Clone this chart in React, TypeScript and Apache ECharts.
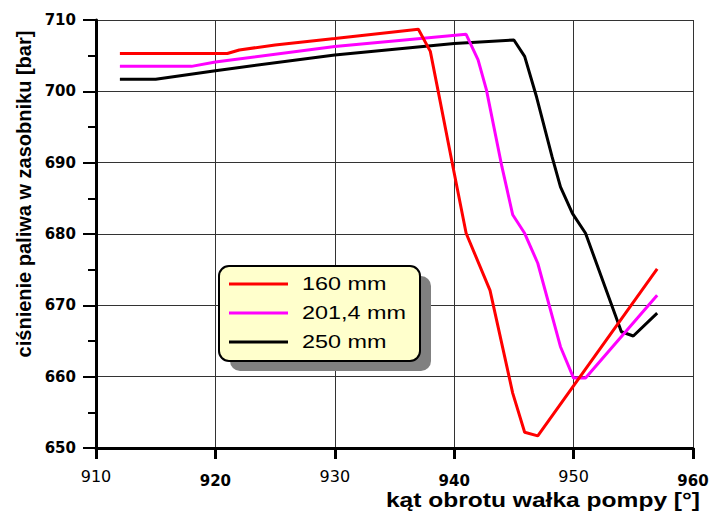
import React, { useEffect, useRef } from "react";
import * as echarts from "echarts";

const seriesNames = ["160 mm", "201,4 mm", "250 mm"];
const seriesColors = ["#ff0000", "#ff00ff", "#000000"];

const red160X = [912, 921, 922, 925, 930, 937, 938, 938.8, 939.9, 941, 943, 944.9, 945.9, 947, 957];
const red160Y = [705.3, 705.3, 705.8, 706.5, 707.4, 708.7, 705.6, 698.8, 689.4, 680.1, 672.1, 657.7, 652.2, 651.7, 675.1];

const mag201X = [912, 918, 920, 930, 941, 942, 942.7, 944, 944.9, 945.9, 947, 948.9, 950, 951, 957];
const mag201Y = [703.5, 703.5, 704.1, 706.3, 708.0, 704.4, 700.2, 689.4, 682.7, 680.1, 675.9, 664.2, 659.8, 659.8, 671.4];

const blk250X = [912, 915, 920, 930, 940, 945, 945.9, 946.9, 948.2, 948.9, 949.9, 951, 954, 955, 957];
const blk250Y = [701.7, 701.7, 702.9, 705.1, 706.7, 707.2, 704.9, 699.2, 690.8, 686.6, 682.9, 680.1, 666.3, 665.7, 668.9];

const xTicks = [910, 920, 930, 940, 950, 960];
const boldXTicks = [920, 940, 960];
const yTicks = [650, 660, 670, 680, 690, 700, 710];

const xTitle = "kąt obrotu wałka pompy [°]";
const yTitle = "ciśnienie paliwa w zasobniku [bar]";

const FONT = "Arial, 'Liberation Sans', sans-serif";
const WIDE = "'DejaVu Sans', sans-serif";

function pairs(xs: number[], ys: number[]) {
  return xs.map((x, i) => [x, ys[i]]);
}

export default function App() {
  const ref = useRef<HTMLDivElement>(null);
  useEffect(() => {
    if (!ref.current) return;
    const chart = echarts.init(ref.current, undefined, { renderer: "svg" });
    const allX = [red160X, mag201X, blk250X];
    const allY = [red160Y, mag201Y, blk250Y];

    const legendX = 219, legendY = 266, legendW = 201, legendH = 95;
    const legendItems: any[] = [];
    seriesNames.forEach((name, i) => {
      const cy = 284 + i * 29;
      legendItems.push({
        type: "line",
        shape: { x1: 229, y1: cy, x2: 288, y2: cy },
        style: { stroke: seriesColors[i], lineWidth: 3 },
        z: 102,
      });
      legendItems.push({
        type: "text",
        x: 302,
        y: cy,
        scaleX: 1.3,
        style: {
          text: name,
          font: `18px ${FONT}`,
          fill: "#000",
          verticalAlign: "middle",
          textAlign: "left",
        },
        z: 102,
      });
    });

    chart.setOption({
      animation: false,
      backgroundColor: "#ffffff",
      grid: { left: 96, top: 20, right: 20, bottom: 64, containLabel: false },
      xAxis: {
        type: "value",
        min: 910,
        max: 960,
        interval: 10,
        axisLine: { show: true, onZero: false, lineStyle: { color: "#000", width: 3 } },
        axisTick: { show: true, inside: false, length: 11, lineStyle: { color: "#000", width: 3 } },
        splitLine: { show: true, lineStyle: { color: "#333", width: 1 } },
        axisLabel: {
          margin: 20,
          formatter: (v: number) => (boldXTicks.includes(v) ? `{b|${v}}` : `{n|${v}}`),
          rich: {
            b: { fontFamily: WIDE, fontSize: 15, fontWeight: "bold", color: "#000", padding: [5, 0, 0, 0] },
            n: { fontFamily: WIDE, fontSize: 16, fontWeight: "normal", color: "#000", padding: [0, 0, 3, 0] },
          },
        },
      },
      yAxis: {
        type: "value",
        min: 650,
        max: 710,
        interval: 10,
        axisLine: { show: true, onZero: false, lineStyle: { color: "#000", width: 3 } },
        axisTick: { show: true, inside: false, length: 13, lineStyle: { color: "#000", width: 2 } },
        minorTick: { show: true, splitNumber: 2, length: 8, lineStyle: { color: "#000", width: 2 } },
        splitLine: { show: true, lineStyle: { color: "#333", width: 1 } },
        axisLabel: {
          margin: 20,
          fontFamily: WIDE,
          fontSize: 15,
          fontWeight: "bold",
          color: "#000",
        },
      },
      series: seriesNames.map((name, i) => ({
        name,
        type: "line",
        data: pairs(allX[i], allY[i]),
        showSymbol: false,
        symbol: "none",
        lineStyle: { color: seriesColors[i], width: 3 },
        z: 10 - i,
      })),
      graphic: [
        {
          type: "rect",
          shape: { x: legendX + 11, y: legendY + 10, width: legendW, height: legendH, r: 10 },
          style: { fill: "#808080" },
          z: 100,
        },
        {
          type: "rect",
          shape: { x: legendX, y: legendY, width: legendW, height: legendH, r: 10 },
          style: { fill: "#ffffcc", stroke: "#000", lineWidth: 2 },
          z: 101,
        },
        ...legendItems,
        {
          type: "text",
          x: 24,
          y: 194,
          rotation: Math.PI / 2,
          style: {
            text: yTitle,
            font: `bold 20px ${FONT}`,
            fill: "#000",
            textAlign: "center",
            verticalAlign: "middle",
          },
        },
        {
          type: "text",
          x: 543,
          y: 500,
          scaleX: 1.17,
          style: {
            text: xTitle,
            font: `bold 21px ${FONT}`,
            fill: "#000",
            textAlign: "center",
            verticalAlign: "middle",
          },
        },
      ],
    });
    return () => chart.dispose();
  }, []);
  return <div ref={ref} style={{ width: 713, height: 512, position: "absolute", left: 0, top: 0 }} />;
}
